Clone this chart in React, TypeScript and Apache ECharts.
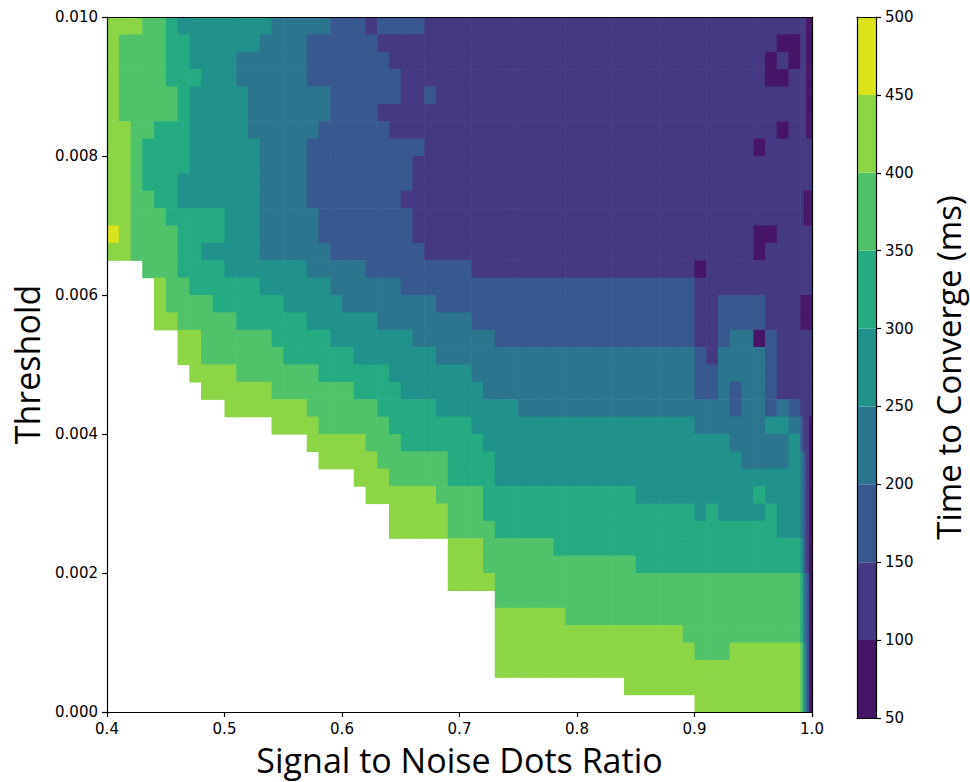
import React, { useEffect, useRef } from "react";
import * as echarts from "echarts";

// SNR column edges (x); the last 0.01 is split in four to follow the steep drop at SNR = 1.0
const snrEdges = [
  0.4, 0.41, 0.42, 0.43, 0.44, 0.45, 0.46, 0.47, 0.48, 0.49,
  0.5, 0.51, 0.52, 0.53, 0.54, 0.55, 0.56, 0.57, 0.58, 0.59,
  0.6, 0.61, 0.62, 0.63, 0.64, 0.65, 0.66, 0.67, 0.68, 0.69,
  0.7, 0.71, 0.72, 0.73, 0.74, 0.75, 0.76, 0.77, 0.78, 0.79,
  0.8, 0.81, 0.82, 0.83, 0.84, 0.85, 0.86, 0.87, 0.88, 0.89,
  0.9, 0.91, 0.92, 0.93, 0.94, 0.95, 0.96, 0.97, 0.98, 0.99,
  0.9925, 0.995, 0.9975, 1.0,
];
// threshold row edges (y)
const thresholdEdges = [
  0, 0.00025, 0.0005, 0.00075, 0.001, 0.00125, 0.0015, 0.00175, 0.002, 0.00225,
  0.0025, 0.00275, 0.003, 0.00325, 0.0035, 0.00375, 0.004, 0.00425, 0.0045, 0.00475,
  0.005, 0.00525, 0.0055, 0.00575, 0.006, 0.00625, 0.0065, 0.00675, 0.007, 0.00725,
  0.0075, 0.00775, 0.008, 0.00825, 0.0085, 0.00875, 0.009, 0.00925, 0.0095, 0.00975, 0.01,
];

// contour levels of time to converge (ms)
const timeLevels = [50, 100, 150, 200, 250, 300, 350, 400, 450, 500];
const bandColors = [
  "#471567", "#443982", "#385990", "#2b758e", "#21918c",
  "#25ab82", "#50c36a", "#8cd646", "#dbe31a",
];

// Band read for every cell: digit d means time in [timeLevels[d], timeLevels[d+1]),
// '.' means no convergence. First row = highest threshold (0.01), one char per SNR column.
const timeBandRows = [
  "7776654444 4444333332 2212222111 1111111111 1111111111 111111111 1100",
  "7666655444 4443333222 2221111111 1111111111 1111111111 111111100 1100",
  "7666655444 4333333222 2222111111 1111111111 1111111111 111111010 1100",
  "7666655544 4333333222 2222211111 1111111111 1111111111 111111001 1100",
  "7666665444 4433333332 2222211211 1111111111 1111111111 111111111 1100",
  "7666665444 4433333332 2221111111 1111111111 1111111111 111111111 1100",
  "7766555444 4433333322 2222111111 1111111111 1111111111 111111101 1100",
  "7765555444 4443333222 2222222111 1111111111 1111111111 111110111 1111",
  "7765555444 4443333222 2222221111 1111111111 1111111111 111111111 1111",
  "7765554444 4443333222 2222221111 1111111111 1111111111 111111111 1111",
  "7766554444 4443333222 2222211111 1111111111 1111111111 111111111 1000",
  "7766655555 4443333322 2222221111 1111111111 1111111111 111111111 1000",
  "8766665555 4443333322 2222221111 1111111111 1111111111 111110011 1111",
  "7766665544 4443333332 2222222111 1111111111 1111111111 111110111 1111",
  "...6665555 4444444333 3322222222 2111111111 1111111111 011111111 1111",
  "....766555 5554444443 3333322222 2222222222 2222222222 111111111 1111",
  "....766665 5555544444 3333333322 2222222222 2222222222 112222111 0000",
  "....776666 6555555444 4443333333 3222222222 2222222222 112222111 0000",
  "......7766 6666555554 4444443333 3332222222 2222222222 112330211 1111",
  "......7766 6666655555 5444444433 3333333333 3333333333 213333211 1111",
  ".......777 7666666655 5555444444 4333333333 3333333333 223333211 1111",
  "........77 7777666666 6555544444 4433333333 3333333333 223233211 1111",
  ".......... 7777777666 6665555544 4444433333 3333333333 333233232 1111",
  ".......... ....777766 6666555555 5444444444 4444444444 333333443 2110",
  ".......... .......777 7766655555 5544444444 4444444444 444333334 2110",
  ".......... ........77 7776666665 5554444444 4444444444 444433334 3210",
  ".......... .......... .777666665 5554444444 4444444444 444444444 3210",
  ".......... .......... ..77777766 6655555555 5555544444 444445444 3210",
  ".......... .......... ....777776 6655555555 5555555555 454444544 3210",
  ".......... .......... ....777776 6665555555 5555555555 555555544 3210",
  ".......... .......... .........7 7766666655 5555555555 555555555 4210",
  ".......... .......... .........7 7766666666 6666655555 555555555 4210",
  ".......... .......... .........7 7776666666 6666666666 666666666 5320",
  ".......... .......... .......... ...6666666 6666666666 666666666 5320",
  ".......... .......... .......... ...7777776 6666666666 666666666 5320",
  ".......... .......... .......... ...7777777 7777777776 666666666 5320",
  ".......... .......... .......... ...7777777 7777777777 666777777 6420",
  ".......... .......... .......... ...7777777 7777777777 777777777 6420",
  ".......... .......... .......... .......... ....777777 777777777 6420",
  ".......... .......... .......... .......... .......... 777777777 6420",
];

const xAxisTitle = "Signal to Noise Dots Ratio";
const yAxisTitle = "Threshold";
const colorbarTitle = "Time to Converge (ms)";

function buildCells() {
  const cells: number[][] = [];
  const nRows = thresholdEdges.length - 1;
  timeBandRows.forEach((row, r) => {
    const chars = row.replace(/ /g, "");
    const yi = nRows - 1 - r;
    for (let c = 0; c < chars.length; c++) {
      const ch = chars[c];
      if (ch === ".") continue;
      const d = Number(ch);
      const mid = (timeLevels[d] + timeLevels[d + 1]) / 2;
      cells.push([snrEdges[c], snrEdges[c + 1], thresholdEdges[yi], thresholdEdges[yi + 1], mid]);
    }
  });
  return cells;
}

function buildColorbar() {
  return timeLevels.slice(0, -1).map((lo, d) => {
    const hi = timeLevels[d + 1];
    return [0, 1, lo, hi, (lo + hi) / 2];
  });
}

const renderCell = (overlap: number) => (params: any, api: any) => {
  const a = api.coord([api.value(0), api.value(3)]);
  const b = api.coord([api.value(1), api.value(2)]);
  return {
    type: "rect",
    shape: { x: a[0], y: a[1], width: b[0] - a[0] + overlap, height: b[1] - a[1] + overlap },
    style: { fill: api.visual("color") },
  };
};

const tickFont = { color: "#000", fontSize: 15, fontFamily: "DejaVu Sans" };
const titleFont = { color: "#000", fontSize: 34, fontFamily: "Open Sans" };
const blackLine = { show: true, onZero: false, lineStyle: { color: "#000", width: 1.2 } };
const outTicks = { show: true, inside: false, length: 5, lineStyle: { color: "#000", width: 1.2 } };

function frameAxis(gridIndex: number, position: string, min: number, max: number) {
  return {
    gridIndex,
    type: "value",
    position,
    min,
    max,
    z: 10,
    axisLine: blackLine,
    axisTick: { show: false },
    axisLabel: { show: false },
    splitLine: { show: false },
  };
}

export default function App() {
  const ref = useRef<HTMLDivElement>(null);
  useEffect(() => {
    document.body.style.margin = "0";
    if (!ref.current) return;
    const chart = echarts.init(ref.current, null, { renderer: "svg" });
    const pieces = timeLevels.slice(0, -1).map((lo, d) => ({
      gte: lo,
      lt: timeLevels[d + 1],
      color: bandColors[d],
    }));
    chart.setOption({
      animation: false,
      backgroundColor: "#fff",
      grid: [
        { left: 107, top: 17, width: 705, height: 701 },
        { left: 857, top: 17, width: 19, height: 701 },
      ],
      visualMap: {
        type: "piecewise",
        show: false,
        dimension: 4,
        seriesIndex: [0, 1],
        pieces,
      },
      xAxis: [
        {
          gridIndex: 0,
          type: "value",
          position: "bottom",
          min: 0.4,
          max: 1.0,
          interval: 0.1,
          z: 10,
          axisLine: blackLine,
          axisTick: outTicks,
          axisLabel: { ...tickFont, margin: 9, formatter: (v: number) => v.toFixed(1) },
          splitLine: { show: false },
          name: xAxisTitle,
          nameLocation: "middle",
          nameGap: 31,
          nameTextStyle: titleFont,
        },
        frameAxis(0, "top", 0.4, 1.0),
        frameAxis(1, "bottom", 0, 1),
        frameAxis(1, "top", 0, 1),
      ],
      yAxis: [
        {
          gridIndex: 0,
          type: "value",
          position: "left",
          min: 0,
          max: 0.01,
          interval: 0.002,
          z: 10,
          axisLine: blackLine,
          axisTick: outTicks,
          axisLabel: { ...tickFont, margin: 9, formatter: (v: number) => v.toFixed(3) },
          splitLine: { show: false },
          name: yAxisTitle,
          nameLocation: "middle",
          nameRotate: 90,
          nameGap: 62,
          nameTextStyle: titleFont,
        },
        frameAxis(0, "right", 0, 0.01),
        frameAxis(1, "left", 50, 500),
        {
          gridIndex: 1,
          type: "value",
          position: "right",
          min: 50,
          max: 500,
          interval: 50,
          z: 10,
          axisLine: blackLine,
          axisTick: outTicks,
          axisLabel: { ...tickFont, margin: 9 },
          splitLine: { show: false },
          name: colorbarTitle,
          nameLocation: "middle",
          nameRotate: 90,
          nameGap: 56,
          nameTextStyle: { ...titleFont, fontSize: 33 },
        },
      ],
      series: [
        {
          type: "custom",
          xAxisIndex: 0,
          yAxisIndex: 0,
          clip: true,
          renderItem: renderCell(0.6),
          encode: { x: [0, 1], y: [2, 3] },
          data: buildCells(),
        },
        {
          type: "custom",
          xAxisIndex: 2,
          yAxisIndex: 2,
          clip: true,
          renderItem: renderCell(0),
          encode: { x: [0, 1], y: [2, 3] },
          data: buildColorbar(),
        },
      ],
    });
    return () => chart.dispose();
  }, []);
  return <div ref={ref} style={{ width: 970, height: 782 }} />;
}
